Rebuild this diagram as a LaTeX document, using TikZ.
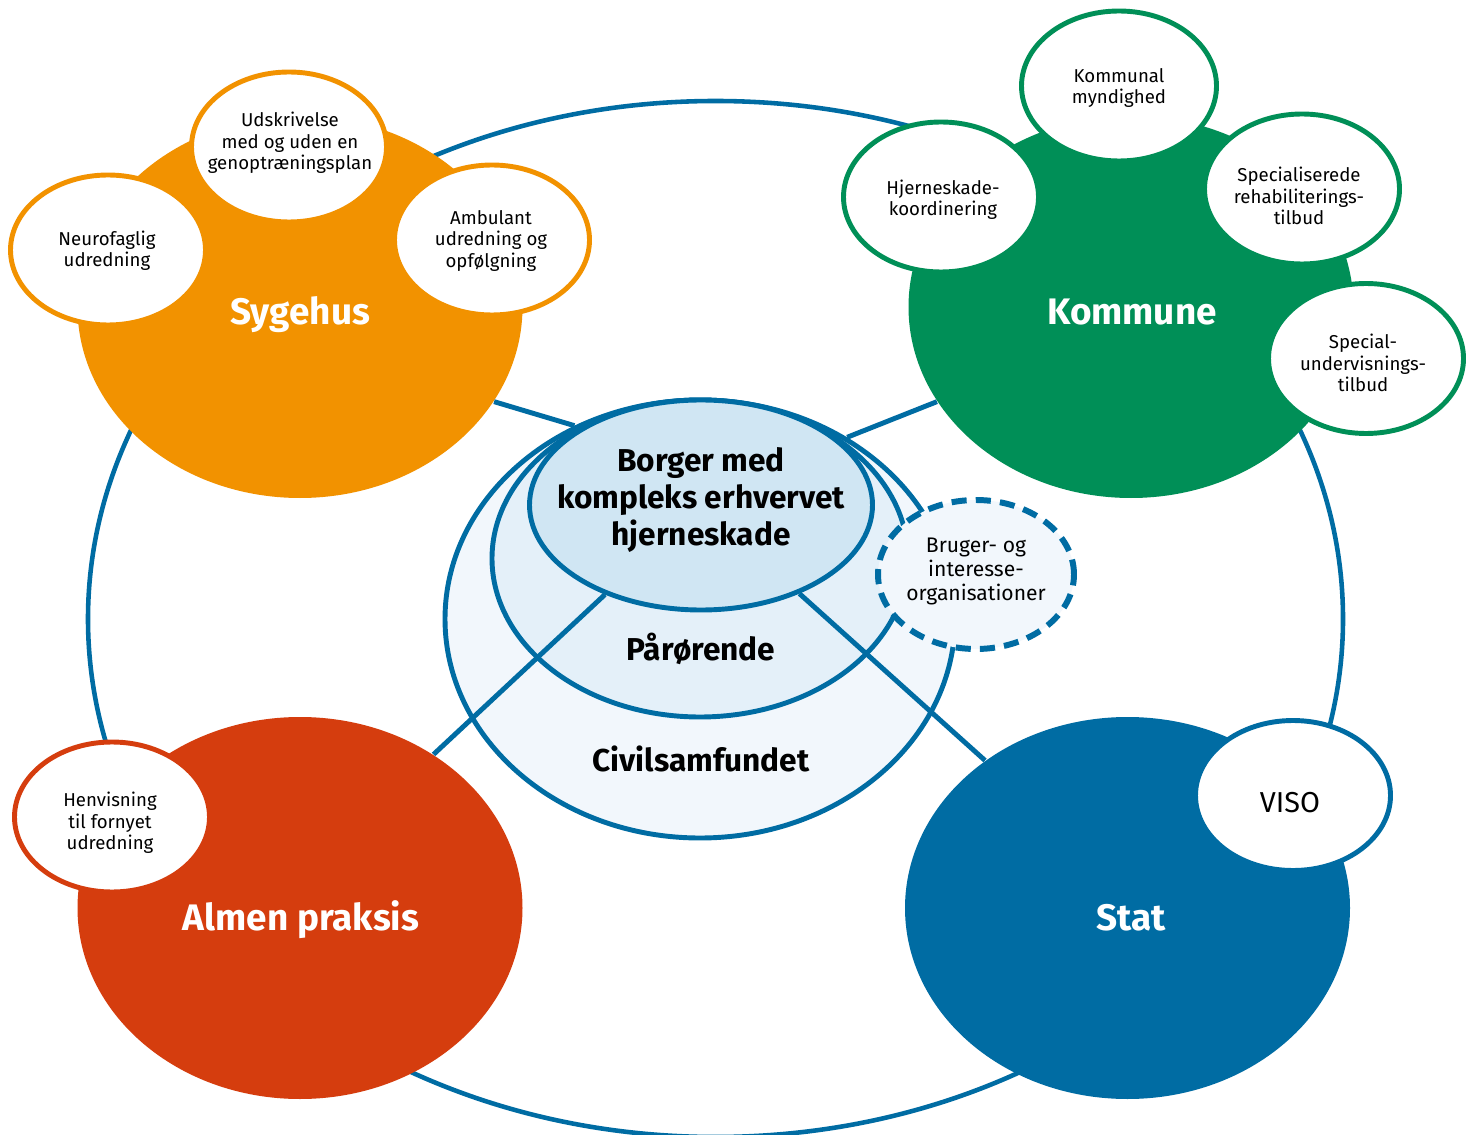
\documentclass[tikz,border=0pt]{standalone}
\usepackage{fontspec}
\setmainfont{Fira Sans}
\usetikzlibrary{shapes.geometric}

\definecolor{sygcol}{HTML}{F29200}
\definecolor{komcol}{HTML}{008F57}
\definecolor{almcol}{HTML}{D53D0E}
\definecolor{statcol}{HTML}{006CA3}
\definecolor{borcol}{HTML}{D0E6F3}
\definecolor{parcol}{HTML}{E4F0F9}
\definecolor{civcol}{HTML}{F2F7FC}

\tikzset{big/.style={ellipse, fill=#1, minimum width=4.45cm, minimum height=3.82cm}}
\tikzset{bub/.style={ellipse, draw=#1, fill=white, line width=1.4pt, minimum width=1.95cm, minimum height=1.5cm}}
\tikzset{mid/.style={ellipse, draw=statcol, line width=1.4pt}}
\tikzset{txt/.style={align=center, font=\fontsize{5.3}{6.1}\selectfont}}
\tikzset{lbl/.style={anchor=base, text=white, font=\fontsize{10.5}{12}\selectfont\bfseries}}
\tikzset{clbl/.style={anchor=base, font=\fontsize{9}{10.5}\selectfont\bfseries}}
\tikzset{link/.style={draw=statcol, line width=1.4pt}}

\begin{document}
\begin{tikzpicture}[every node/.style={inner sep=0pt}]
\clip (0,0) rectangle (14.75,-11.35);
\fill[white] (0,0) rectangle (14.75,-11.35);
\node[ellipse, draw=statcol, line width=1.3pt, minimum width=12.55cm, minimum height=10.36cm] (ring) at (7.155,-6.19) {};
% the four actors
\node[big=sygcol]  (syg)  at (3.00,-3.07) {};
\node[big=komcol]  (kom)  at (11.31,-3.07) {};
\node[big=almcol]  (alm)  at (3.00,-9.08) {};
\node[big=statcol] (stat) at (11.275,-9.08) {};
% centre
\node[mid, fill=civcol, minimum width=5.10cm, minimum height=4.38cm] (civ) at (7.00,-6.19) {};
\node[mid, fill=parcol, minimum width=4.16cm, minimum height=3.17cm] (par) at (7.00,-5.585) {};
\node[mid, fill=borcol, minimum width=3.43cm, minimum height=2.10cm] (bor) at (7.01,-5.05) {};
\node[mid, fill=civcol, line width=1.7pt, dash pattern=on 4.3pt off 2.6pt,
      minimum width=1.96cm, minimum height=1.49cm] (brug) at (9.76,-5.745) {};
% bubbles
\node[bub=sygcol]  (udsk)  at (2.89,-1.47) {};
\node[bub=sygcol]  (neuro) at (1.08,-2.50) {};
\node[bub=sygcol]  (amb)   at (4.92,-2.40) {};
\node[bub=komcol]  (kmyn)  at (11.19,-0.86) {};
\node[bub=komcol]  (hjern) at (9.41,-1.97) {};
\node[bub=komcol]  (spec)  at (13.02,-1.89) {};
\node[bub=komcol]  (undv)  at (13.66,-3.585) {};
\node[bub=almcol]  (henv)  at (1.12,-8.17) {};
\node[bub=statcol] (viso)  at (12.93,-7.955) {};
% texts
\node[txt] (udskT)  at (2.90,-1.43)   {Udskrivelse\\med og uden en\\genoptræningsplan};
\node[txt] (neuroT) at (1.07,-2.51)   {Neurofaglig\\udredning};
\node[txt] (ambT)   at (4.91,-2.41)   {Ambulant\\udredning og\\opfølgning};
\node[txt] (kmynT)  at (11.19,-0.88)  {Kommunal\\myndighed};
\node[txt] (hjernT) at (9.43,-1.995)  {Hjerneskade-\\koordinering};
\node[txt] (specT)  at (12.99,-1.96)  {Specialiserede\\rehabiliterings-\\tilbud};
\node[txt] (undvT)  at (13.63,-3.63)  {Special-\\undervisnings-\\tilbud};
\node[txt] (henvT)  at (1.10,-8.23)   {Henvisning\\til fornyet\\udredning};
\node[font=\fontsize{8.2}{9}\selectfont] (visoT) at (12.90,-8.03) {VISO};
\node[align=center, font=\fontsize{6}{6.8}\selectfont] (brugT) at (9.76,-5.715) {Bruger- og\\interesse-\\organisationer};
\node[lbl] (sygL)  at (3.00,-3.25)  {Sygehus};
\node[lbl] (komL)  at (11.32,-3.25) {Kommune};
\node[lbl] (almL)  at (3.01,-9.30)  {Almen praksis};
\node[lbl] (statL) at (11.31,-9.30) {Stat};
\node[align=center, font=\fontsize{9}{10.5}\selectfont\bfseries] (borT) at (7.01,-5.00)
  {Borger med\\kompleks erhvervet\\hjerneskade};
\node[clbl] (parT) at (7.01,-6.60) {Pårørende};
\node[clbl] (civT) at (7.01,-7.71) {Civilsamfundet};
% links
\draw[link] (syg.-26) -- (civ.123);
\draw[link] (kom.206.4) -- (civ.51.5);
\draw[link] (bor.223) -- (alm.49);
\draw[link] (bor.-42.5) -- (stat.134.6);
\end{tikzpicture}
\end{document}
